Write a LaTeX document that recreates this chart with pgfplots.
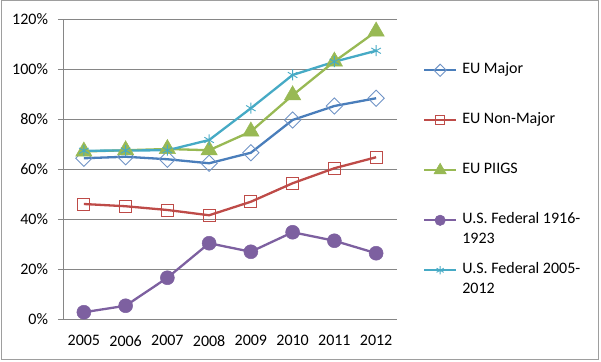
\documentclass[border=0pt]{standalone}
\usepackage{pgfplots}
\pgfplotsset{compat=1.18}
\usepackage{fontspec}
\setmainfont{Carlito}
\definecolor{cblue}{HTML}{4A7EBB}
\definecolor{cbluel}{HTML}{6F93C6}
\definecolor{cred}{HTML}{BE4B48}
\definecolor{cgreen}{HTML}{98B954}
\definecolor{cpurple}{HTML}{7D60A0}
\definecolor{caqua}{HTML}{46AAC5}
\definecolor{cgrid}{HTML}{868686}
\begin{document}
\fontsize{16bp}{20bp}\selectfont
\begin{tikzpicture}
\useasboundingbox (0,0) rectangle (601bp,362bp);
\draw[cgrid!80, line width=1bp] (1bp,2bp) rectangle (598bp,361bp);
\begin{axis}[
  at={(63bp,43bp)}, anchor=south west, scale only axis,
  width=334bp, height=300bp,
  xmin=-0.5, xmax=7.5, ymin=0, ymax=120,
  axis x line*=bottom, axis y line*=left,
  axis line style={cgrid, line width=0.8bp},
  ytick={0,20,...,120},
  yticklabel={\pgfmathprintnumber{\tick}\%},
  /pgf/number format/assume math mode=true,
  ymajorgrids, grid style={cgrid, line width=0.8bp},
  tick align=outside, major tick length=5bp,
  tick style={cgrid, line width=0.8bp},
  xtick={0,...,7},
  xticklabels={2005,2006,2007,2008,2009,2010,2011,2012},
  x tick style={draw=none},
  extra x ticks={-0.5,0.5,...,7.5},
  extra x tick labels={},
  extra x tick style={grid=none, tick style={cgrid, line width=0.8bp}},
  tick label style={font=\fontsize{16bp}{20bp}\selectfont},
  xticklabel style={yshift=-6bp},
  yticklabel style={xshift=-4.5bp},
  legend style={at={(1.0778,0.8567)}, anchor=north west, draw=none, fill=none,
    inner sep=0pt, outer sep=0pt, row sep=0pt, column sep=5bp,
    nodes={inner sep=0pt, text height=12bp, text depth=38bp, anchor=base west},
    cells={anchor=base west},
    font=\fontsize{16bp}{20bp}\selectfont},
  legend image code/.code={
    \draw[mark repeat=2,mark phase=2,#1,/tikz/every mark/.append style={scale=0.75}]
      plot coordinates {(0bp,3.7bp) (16bp,3.7bp) (32bp,3.7bp)};},
]
\addplot[cblue, line width=2.3bp, mark=square, mark size=5.7bp,
  mark options={rotate=45, draw=cbluel, line width=0.9bp, fill=none}]
  coordinates {(0,64.3) (1,64.9) (2,63.9) (3,62.3) (4,66.5) (5,79.6) (6,85.2) (7,88.3)};
\addlegendentry{EU Major}
\addplot[cred, line width=2.3bp, mark=square, mark size=6bp,
  mark options={line width=0.9bp, fill=none}]
  coordinates {(0,46.0) (1,45.1) (2,43.6) (3,41.5) (4,46.9) (5,54.3) (6,60.3) (7,64.7)};
\addlegendentry{EU Non-Major}
\addplot[cgreen, line width=2.3bp, mark=triangle*, mark size=9.5bp,
  mark options={fill=cgreen, draw=cgreen, line width=0.5bp}]
  coordinates {(0,67.0) (1,67.5) (2,68.0) (3,67.5) (4,75.0) (5,89.5) (6,103.0) (7,115.0)};
\addlegendentry{EU PIIGS}
\addplot[cpurple, line width=2.3bp, mark=*, mark size=7bp,
  mark options={fill=cpurple, draw=cpurple, line width=0.5bp}]
  coordinates {(0,2.7) (1,5.3) (2,16.5) (3,30.3) (4,26.9) (5,34.7) (6,31.3) (7,26.3)};
\addlegendentry{\begin{tabular}[t]{@{}l@{}}U.S. Federal 1916-\\1923\end{tabular}}
\addplot[caqua, line width=2.3bp, mark=asterisk, mark size=5.5bp,
  mark options={line width=0.9bp}]
  coordinates {(0,67.3) (1,67.4) (2,67.5) (3,71.6) (4,84.3) (5,97.6) (6,102.9) (7,107.3)};
\addlegendentry{\begin{tabular}[t]{@{}l@{}}U.S. Federal 2005-\\2012\end{tabular}}
\end{axis}
\end{tikzpicture}
\end{document}
